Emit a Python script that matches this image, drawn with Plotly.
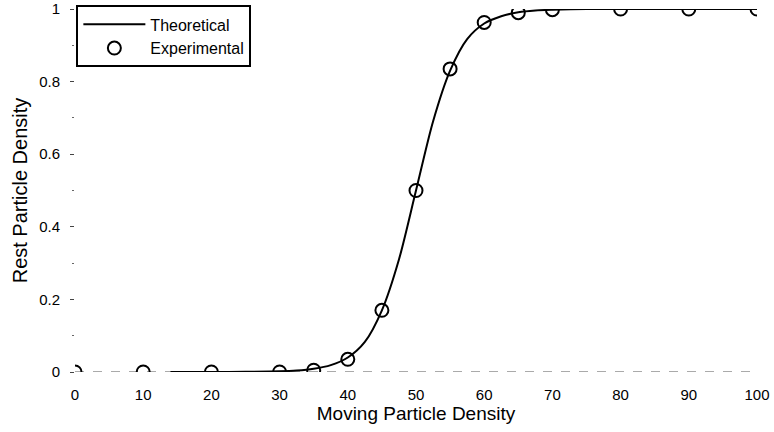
import plotly.graph_objects as go

# Experimental points
exp_x = [0, 10, 20, 30, 35, 40, 45, 50, 55, 60, 65, 70, 80, 90, 100]
exp_y = [0.0, 0.0, 0.0, 0.0, 0.005, 0.035, 0.17, 0.5, 0.835, 0.963, 0.99, 0.998, 1.0, 1.0, 1.0]

# Theoretical curve
theo_x = [14, 20, 25, 30, 32.5, 35, 37.5, 40, 42.5, 45, 47.5, 50, 52.5, 55, 57.5, 60, 62.5, 65, 67.5, 70, 75, 80, 90, 100]
theo_y = [0.0, 0.0002, 0.0005, 0.0018, 0.004, 0.009, 0.019, 0.040, 0.083, 0.17, 0.31, 0.5, 0.69, 0.83, 0.917, 0.96, 0.98, 0.991, 0.996, 0.998, 1.0, 1.0, 1.0, 1.0]

x_ticks = [0, 10, 20, 30, 40, 50, 60, 70, 80, 90, 100]
y_ticks = [0, 0.2, 0.4, 0.6, 0.8, 1]
y_tick_labels = ["0", "0.2", "0.4", "0.6", "0.8", "1"]

fig = go.Figure()
fig.add_trace(go.Scatter(
    x=theo_x, y=theo_y, mode="lines", name="Theoretical",
    line=dict(color="black", width=2, shape="spline", smoothing=0.8),
))
fig.add_trace(go.Scatter(
    x=exp_x, y=exp_y, mode="markers", name="Experimental",
    marker=dict(symbol="circle-open", size=13, color="black", line=dict(width=2)),
    cliponaxis=True,
))

fig.add_shape(type="line", xref="x", yref="y", x0=0, x1=100, y0=0, y1=0,
              line=dict(color="#555", width=1, dash="dash"), layer="below")

font_family = "Liberation Sans, Arial, sans-serif"
fig.update_layout(
    width=774, height=432,
    margin=dict(l=75, r=17, t=9, b=60, autoexpand=False),
    plot_bgcolor="white", paper_bgcolor="white",
    font=dict(family=font_family, color="black", size=15),
    showlegend=True,
    legend=dict(
        x=0.002, y=1.01, xanchor="left", yanchor="top",
        bordercolor="black", borderwidth=2, bgcolor="white",
        font=dict(size=16, family=font_family),
        tracegroupgap=0, itemwidth=62,
    ),
    xaxis=dict(
        range=[0, 100], tickvals=x_ticks, showgrid=False, zeroline=False,
        showline=False, ticks="", tickfont=dict(size=15), ticklabelstandoff=12,
        ticklabeloverflow="allow", automargin=False,
        title=dict(text="Moving Particle Density", font=dict(size=19), standoff=0),
    ),
    yaxis=dict(
        range=[0, 1], tickvals=y_ticks, ticktext=y_tick_labels, showgrid=False,
        zeroline=False, showline=False, ticks="outside", ticklen=4, tickwidth=1,
        tickcolor="#444", tickfont=dict(size=15), ticklabelstandoff=7,
        ticklabeloverflow="allow", automargin=False,
        minor=dict(tickvals=[0.1, 0.3, 0.5, 0.7, 0.9], ticks="outside", ticklen=2, tickcolor="#666"),
        title=dict(text="Rest Particle Density", font=dict(size=20), standoff=6),
    ),
)

fig.write_html("out.html")
